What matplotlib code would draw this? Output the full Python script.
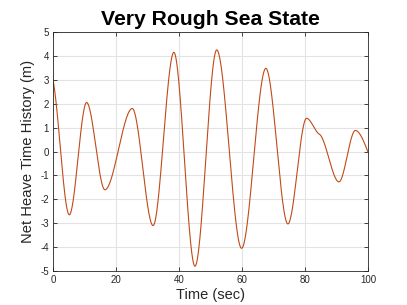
import numpy as np
import matplotlib
matplotlib.use("Agg")
import matplotlib.pyplot as plt

# turning points of the heave record (time in s, heave in m)
t_key = [0, 5.2, 10.7, 16.5, 25.2, 31.8, 38.4, 45.1, 52.0, 59.9, 67.6, 74.6,
         80.5, 84.6, 90.8, 96.0, 100]
y_key = [3.0, -2.65, 2.05, -1.6, 1.8, -3.1, 4.15, -4.8, 4.25, -4.05, 3.48, -3.03,
         1.39, 0.72, -1.27, 0.88, -0.02]
# slope at each point (0 at the crests and troughs)
m_key = [-0.6, 0, 0, 0, 0, 0, 0, 0, 0, 0, 0, 0,
         0, -0.07, 0, 0, -0.35]

title = "Very Rough Sea State"
xlabel = "Time (sec)"
ylabel = "Net Heave Time History (m)"
xticks = [0, 20, 40, 60, 80, 100]
yticks = list(range(-5, 6))


def hermite(tk, yk, mk, n=3000):
    tk, yk, mk = np.asarray(tk), np.asarray(yk), np.asarray(mk)
    t = np.linspace(tk[0], tk[-1], n)
    i = np.clip(np.searchsorted(tk, t, side="right") - 1, 0, len(tk) - 2)
    h = tk[i + 1] - tk[i]
    s = (t - tk[i]) / h
    y = ((2 * s**3 - 3 * s**2 + 1) * yk[i] + (s**3 - 2 * s**2 + s) * h * mk[i]
         + (-2 * s**3 + 3 * s**2) * yk[i + 1] + (s**3 - s**2) * h * mk[i + 1])
    return t, y


plt.rcParams["font.family"] = ["Liberation Sans", "DejaVu Sans"]
plt.rcParams["axes.unicode_minus"] = False

fig = plt.figure(figsize=(4.07, 3.05), dpi=100)
ax = fig.add_axes([0.13, 0.1115, 0.774, 0.7835])

t, y = hermite(t_key, y_key, m_key)
ax.plot(t, y, color="#c04a17", linewidth=0.8)

ax.set_xlim(0, 100)
ax.set_ylim(-5, 5)
ax.set_xticks(xticks)
ax.set_yticks(yticks)
ax.grid(True, color="#e3e3e3", linewidth=0.8)
ax.set_axisbelow(True)
ax.tick_params(direction="in", length=3, width=0.6, colors="#262626",
               labelsize=7, top=True, right=True, pad=3)
for sp in ax.spines.values():
    sp.set_color("#262626")
    sp.set_linewidth(0.6)

ax.set_title(title, fontsize=15.2, fontweight="bold", pad=5)
ax.set_xlabel(xlabel, fontsize=10.5, color="#262626", labelpad=2)
ax.set_ylabel(ylabel, fontsize=10.6, color="#262626", labelpad=4)

fig.savefig("out.png", dpi=100)
